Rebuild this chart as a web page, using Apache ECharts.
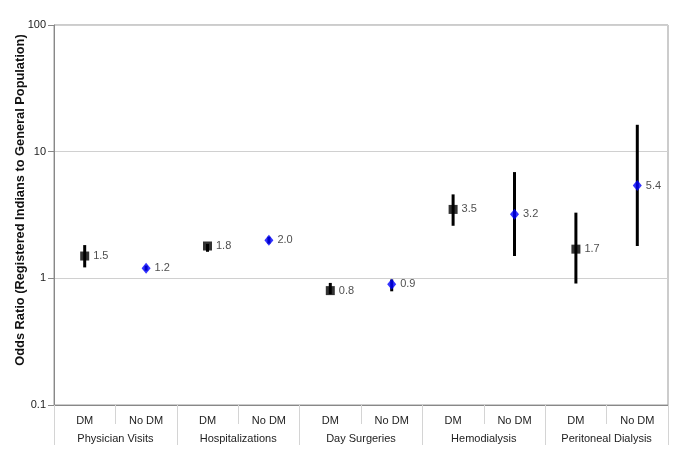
<!DOCTYPE html>
<html>
<head>
<meta charset="utf-8">
<script src="https://cdn.jsdelivr.net/npm/echarts@6/dist/echarts.min.js"></script>
<style>html,body{margin:0;padding:0;background:#fff}#c{width:685px;height:467px}</style>
</head>
<body>
<div id="c"></div>
<script>
var groups = ['Physician Visits', 'Hospitalizations', 'Day Surgeries', 'Hemodialysis', 'Peritoneal Dialysis'];
var subLabels = ['DM', 'No DM', 'DM', 'No DM', 'DM', 'No DM', 'DM', 'No DM', 'DM', 'No DM'];
var dmOR    = [1.5, 1.8, 0.8, 3.5, 1.7];
var dmLow   = [1.22, 1.62, 0.75, 2.6, 0.91];
var dmHigh  = [1.83, 1.87, 0.92, 4.6, 3.3];
var noOR    = [1.2, 2.0, 0.9, 3.2, 5.4];
var noLow   = [1.15, 1.88, 0.79, 1.5, 1.8];
var noHigh  = [1.26, 2.13, 0.98, 6.9, 16.3];
var yTicks  = [0.1, 1, 10, 100];

var dmPts = [], noPts = [], bars = [];
for (var i = 0; i < groups.length; i++) {
  dmPts.push([2 * i, dmOR[i]]);
  noPts.push([2 * i + 1, noOR[i]]);
  bars.push([2 * i, dmLow[i], dmHigh[i]]);
  bars.push([2 * i + 1, noLow[i], noHigh[i]]);
}

var font = 'Liberation Sans, Arial, sans-serif';
var chart = echarts.init(document.getElementById('c'), null, {renderer: 'canvas'});
chart.setOption({
  animation: false,
  grid: {left: 54, right: 17, top: 25, bottom: 62, show: true, borderColor: '#999', borderWidth: 1,
    containLabel: false, outerBoundsMode: 'none'},
  xAxis: [{
    type: 'category',
    data: subLabels,
    position: 'bottom',
    axisLine: {show: true, lineStyle: {color: '#888', width: 1}},
    axisTick: {show: true, interval: 0, length: 19, lineStyle: {color: '#d4d4d4'}},
    axisLabel: {interval: 0, color: '#222', fontSize: 11, fontFamily: font, margin: 10},
    splitLine: {show: false}
  }, {
    type: 'category',
    data: groups,
    position: 'bottom',
    axisLine: {show: false},
    axisTick: {show: true, interval: 0, length: 40, lineStyle: {color: '#d4d4d4'}},
    axisLabel: {interval: 0, color: '#222', fontSize: 11, fontFamily: font, margin: 28},
    splitLine: {show: false}
  }],
  yAxis: {
    type: 'log',
    logBase: 10,
    min: 0.1,
    max: 100,
    name: 'Odds Ratio (Registered Indians to General Population)',
    nameLocation: 'middle',
    nameGap: 27,
    nameMoveOverlap: false,
    nameTextStyle: {fontWeight: 'bold', fontSize: 12.8, color: '#111', fontFamily: font, padding: [0, 0, 0, 30]},
    axisLine: {show: true, lineStyle: {color: '#888'}},
    axisTick: {show: true, inside: false, length: 6, lineStyle: {color: '#888'}},
    axisLabel: {color: '#222', fontSize: 11, fontFamily: font, margin: 8,
      formatter: function (v) { return String(+v); }},
    splitLine: {show: true, lineStyle: {color: '#d0d0d0', width: 1}}
  },
  series: [{
    type: 'custom',
    xAxisIndex: 0,
    data: bars,
    renderItem: function (params, api) {
      var x = api.value(0);
      var p1 = api.coord([x, api.value(1)]);
      var p2 = api.coord([x, api.value(2)]);
      return {
        type: 'line',
        shape: {x1: p1[0], y1: p1[1], x2: p2[0], y2: p2[1]},
        style: {stroke: '#000', lineWidth: 3}
      };
    },
    z: 1
  }, {
    type: 'scatter',
    xAxisIndex: 0,
    data: dmPts,
    symbol: 'rect',
    symbolSize: 9,
    itemStyle: {color: '#000'},
    label: {show: true, position: 'right', distance: 4, color: '#222', fontSize: 11, fontFamily: font,
      formatter: function (p) { return p.value[1].toFixed(1); }},
    z: 3
  }, {
    type: 'scatter',
    xAxisIndex: 0,
    data: noPts,
    symbol: 'diamond',
    symbolSize: [9, 11],
    itemStyle: {color: '#0000ff'},
    label: {show: true, position: 'right', distance: 4, color: '#222', fontSize: 11, fontFamily: font,
      formatter: function (p) { return p.value[1].toFixed(1); }},
    z: 3
  }]
});
</script>
</body>
</html>
